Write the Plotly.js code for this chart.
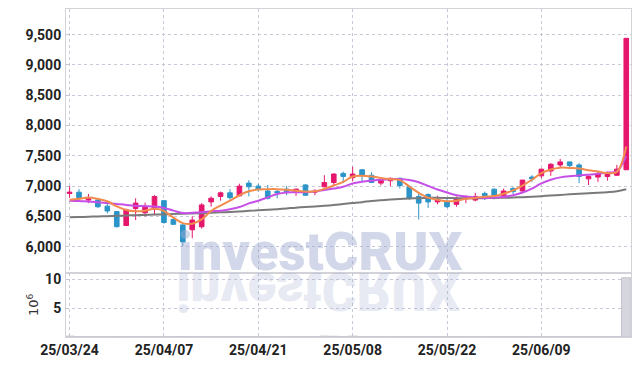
<!DOCTYPE html>
<html>
<head>
<meta charset="utf-8">
<script src="https://cdn.plot.ly/plotly-3.0.1.min.js"></script>
<style>
html,body{margin:0;padding:0;background:#fff;}
#wrap{position:relative;width:639px;height:366px;overflow:hidden;}
#chart{width:639px;height:366px;}
#reflect{position:absolute;left:176px;top:264px;font-family:Roboto,"Liberation Sans",sans-serif;font-weight:900;font-size:53px;line-height:53px;color:rgba(160,172,208,0.26);transform:scaleY(-1);transform-origin:50% 50%;white-space:nowrap;pointer-events:none;}
</style>
</head>
<body>
<div id="wrap"><div id="chart"></div><div id="reflect">investCRUX</div></div>
<script>
const dates = ["2025-03-24","2025-03-25","2025-03-26","2025-03-27","2025-03-28","2025-03-31","2025-04-01","2025-04-02","2025-04-03","2025-04-04","2025-04-07","2025-04-08","2025-04-09","2025-04-10","2025-04-11","2025-04-14","2025-04-15","2025-04-16","2025-04-17","2025-04-18","2025-04-21","2025-04-22","2025-04-23","2025-04-24","2025-04-25","2025-04-28","2025-04-29","2025-04-30","2025-05-02","2025-05-07","2025-05-08","2025-05-09","2025-05-12","2025-05-13","2025-05-14","2025-05-15","2025-05-16","2025-05-19","2025-05-20","2025-05-21","2025-05-22","2025-05-23","2025-05-26","2025-05-27","2025-05-28","2025-05-29","2025-05-30","2025-06-02","2025-06-04","2025-06-05","2025-06-09","2025-06-10","2025-06-11","2025-06-12","2025-06-13","2025-06-16","2025-06-17","2025-06-18","2025-06-19","2025-06-20"];
const tickDates = ["2025-03-24","2025-04-07","2025-04-21","2025-05-08","2025-05-22","2025-06-09"];
const tickLabels = ["25/03/24","25/04/07","25/04/21","25/05/08","25/05/22","25/06/09"];

const open  = [6880,6900,6770,6770,6670,6580,6350,6630,6560,6620,6760,6450,6360,6280,6330,6740,6830,6890,6840,7050,7000,6920,6910,6950,6910,7020,6900,6990,7060,7210,7140,7270,7180,7050,7090,7130,6990,6830,6860,6740,6740,6700,6790,6770,6880,6950,6840,6960,6920,7150,7170,7250,7350,7400,7350,7120,7150,7160,7180,7270];
const high  = [7000,6950,6870,6800,6720,6590,6630,6800,6730,6850,6770,6460,6370,6500,6720,6830,6910,6950,7040,7100,7040,7020,6940,7000,6960,7030,6950,7180,7210,7240,7320,7280,7230,7110,7140,7140,7010,6880,6880,6840,6800,6830,6850,6890,6910,6960,6960,6990,7100,7180,7290,7380,7450,7400,7380,7180,7240,7240,7350,9440];
const low   = [6810,6770,6720,6640,6550,6320,6340,6440,6500,6520,6380,6360,6010,6140,6300,6660,6760,6780,6830,6830,6910,6780,6800,6850,6840,6840,6850,6980,7000,7050,7080,7070,7050,7010,7000,6960,6770,6450,6640,6700,6640,6660,6720,6750,6770,6780,6830,6870,6910,7070,7130,7170,7310,7280,7050,7020,7070,7090,7170,7270];
const close = [6900,6810,6790,6660,6590,6330,6610,6720,6670,6830,6400,6370,6080,6440,6690,6800,6890,6810,7000,6990,6950,6800,6890,6910,6950,6850,6915,7060,7200,7160,7200,7170,7060,7100,7130,7010,6800,6720,6740,6780,6660,6800,6810,6830,6840,6850,6920,6910,7100,7120,7280,7360,7400,7340,7160,7160,7200,7220,7280,9440];
const volume = [150000,50000,45000,48000,52000,60000,55000,50000,47000,52000,60000,58000,65000,55000,50000,48000,45000,42000,50000,47000,45000,44000,40000,42000,45000,48000,50000,150000,120000,60000,150000,55000,50000,45000,42000,45000,55000,60000,50000,45000,48000,44000,42000,40000,42000,45000,46000,44000,60000,50000,55000,52000,50000,48000,55000,47000,45000,44000,50000,10250000];

const ma5  = [6775,6790,6812,6790,6750,6665,6606,6585,6595,6625,6590,6480,6390,6380,6450,6590,6680,6760,6850,6915,6945,6950,6950,6940,6925,6910,6915,6955,7010,7070,7160,7172,7160,7135,7115,7100,6995,6890,6810,6775,6750,6760,6790,6805,6826,6837,6875,6930,7010,7105,7215,7275,7305,7300,7290,7262,7240,7215,7235,7655];
const ma10 = [6760,6755,6745,6735,6720,6705,6690,6678,6670,6662,6640,6596,6555,6560,6570,6585,6595,6620,6655,6715,6760,6815,6870,6895,6898,6900,6915,6935,6960,6990,7045,7072,7090,7105,7115,7118,7100,7065,7005,6945,6895,6850,6828,6812,6805,6812,6822,6850,6895,6960,7045,7105,7145,7165,7177,7190,7205,7225,7245,7495];
const maLong = [6485,6490,6495,6500,6505,6510,6515,6520,6525,6530,6535,6540,6545,6550,6553,6560,6567,6575,6583,6592,6600,6610,6620,6632,6645,6655,6665,6675,6688,6705,6720,6735,6755,6768,6778,6788,6796,6802,6806,6808,6805,6802,6800,6800,6802,6805,6808,6812,6818,6826,6835,6845,6855,6865,6875,6883,6890,6900,6915,6950];

const volM = volume.map(v => v / 1e6);
const LABEL_FONT = {family: 'Roboto', size: 14, color: '#222', weight: 700};
const GRID = '#c6c8d8';
const LINE = '#d2d2d8';

const traces = [
  {type:'candlestick', x:dates, open:open, high:high, low:low, close:close, xaxis:'x', yaxis:'y',
   increasing:{line:{color:'#e5176d', width:1}, fillcolor:'#e5176d'},
   decreasing:{line:{color:'#2b94c8', width:1}, fillcolor:'#2b94c8'},
   whiskerwidth:0, hoverinfo:'skip', showlegend:false},
  {type:'scatter', mode:'lines', x:dates, y:maLong, line:{color:'#7a7a7a', width:2, shape:'spline'}, hoverinfo:'skip', showlegend:false},
  {type:'scatter', mode:'lines', x:dates, y:ma10, line:{color:'#c64fe8', width:2, shape:'spline'}, hoverinfo:'skip', showlegend:false},
  {type:'scatter', mode:'lines', x:dates, y:ma5, line:{color:'#f28c4e', width:2, shape:'spline'}, hoverinfo:'skip', showlegend:false},
  {type:'bar', x:dates, y:volM, xaxis:'x', yaxis:'y2', marker:{color:'#d6d6de', line:{color:'#c4c4cc', width:1}}, hoverinfo:'skip', showlegend:false}
];

const layout = {
  width:639, height:366,
  margin:{l:66, r:8, t:9, b:29},
  paper_bgcolor:'#fff', plot_bgcolor:'#fff',
  showlegend:false, bargap:0,
  xaxis:{type:'category', categoryorder:'array', categoryarray:dates, range:[-0.38, 59.5],
    anchor:'y2', tickmode:'array', tickvals:tickDates, ticktext:tickLabels,
    tickfont:LABEL_FONT, ticks:'', showgrid:true, gridcolor:GRID, griddash:'dot', gridwidth:1,
    showline:true, linecolor:LINE, linewidth:1, mirror:'all', zeroline:false,
    rangeslider:{visible:false}, fixedrange:true},
  yaxis:{domain:[0.196, 1], range:[5571, 9924], tickvals:[6000,6500,7000,7500,8000,8500,9000,9500],
    tickformat:',d', tickfont:LABEL_FONT, ticks:'', ticklabelstandoff:1,
    showgrid:true, gridcolor:GRID, griddash:'dot', gridwidth:1,
    showline:true, linecolor:LINE, linewidth:1, mirror:true, zeroline:false, fixedrange:true},
  yaxis2:{domain:[0, 0.196], range:[0, 11.12], tickvals:[5,10], ticktext:['5','10'],
    tickfont:LABEL_FONT, ticks:'', ticklabelstandoff:1,
    title:{text:'10<sup>6</sup>', font:{family:'"DejaVu Sans",sans-serif', size:13, color:'#333'}, standoff:3},
    showgrid:true, gridcolor:GRID, griddash:'dot', gridwidth:1,
    showline:true, linecolor:LINE, linewidth:1, mirror:true, zeroline:false, fixedrange:true},
  annotations:[
    {text:'investCRUX', xref:'paper', yref:'paper', x:0.194, y:0.259, xanchor:'left', yanchor:'middle',
     showarrow:false, font:{family:'Roboto,"Liberation Sans",sans-serif', size:53, weight:900, color:'rgba(160,172,208,0.48)'}}
  ]
};

Plotly.newPlot('chart', traces, layout, {displayModeBar:false, staticPlot:true});
</script>
</body>
</html>
